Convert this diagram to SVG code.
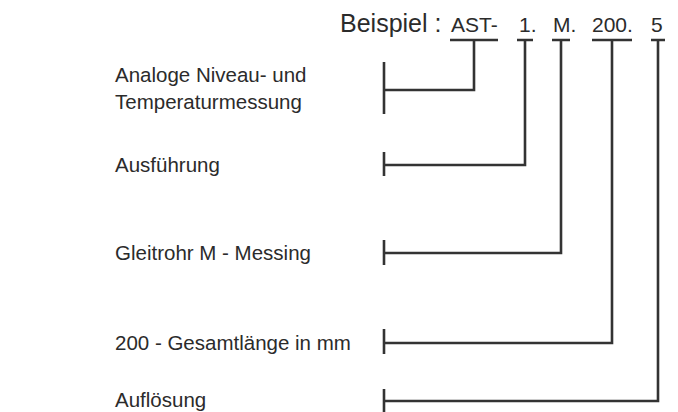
<svg xmlns="http://www.w3.org/2000/svg" width="678" height="412" viewBox="0 0 678 412">
<style>
text{font-family:"Liberation Sans",Arial,sans-serif;fill:#2b2b2b}
.lbl{font-size:20.5px}
.code{font-size:21px}
.big{font-size:25px}
.ln{fill:none;stroke:#333;stroke-width:2.6}
</style>
<rect width="678" height="412" fill="#fff"/>
<g id="code">
<text class="big" x="340" y="32">Beispiel :</text>
<text class="code" x="451" y="32">AST-</text>
<text class="code" x="519" y="32">1.</text>
<text class="code" x="553" y="32">M.</text>
<text class="code" x="592" y="32">200.</text>
<text class="code" x="651" y="32">5</text>
</g>
<g id="label-ast"><text class="lbl" x="115" y="82">Analoge Niveau- und</text><text class="lbl" x="115" y="109">Temperaturmessung</text></g>
<g id="label-ausf"><text class="lbl" x="115" y="172">Ausführung</text></g>
<g id="label-rohr"><text class="lbl" x="115" y="260">Gleitrohr M - Messing</text></g>
<g id="label-len"><text class="lbl" x="115" y="350">200 - Gesamtlänge in mm</text></g>
<g id="label-res"><text class="lbl" x="115" y="407">Auflösung</text></g>
<g id="connectors">
<path class="ln" d="M450,40H498M474,40V90H384M384,62V114"/>
<path class="ln" d="M517,40H533M525,40V165H384M384,152V176"/>
<path class="ln" d="M552,40H570M561,40V253H384M384,240V265"/>
<path class="ln" d="M592,40H632M612,40V343H384M384,329V354"/>
<path class="ln" d="M651,40H665M658,40V401H384M384,389V412"/>
</g>
</svg>
